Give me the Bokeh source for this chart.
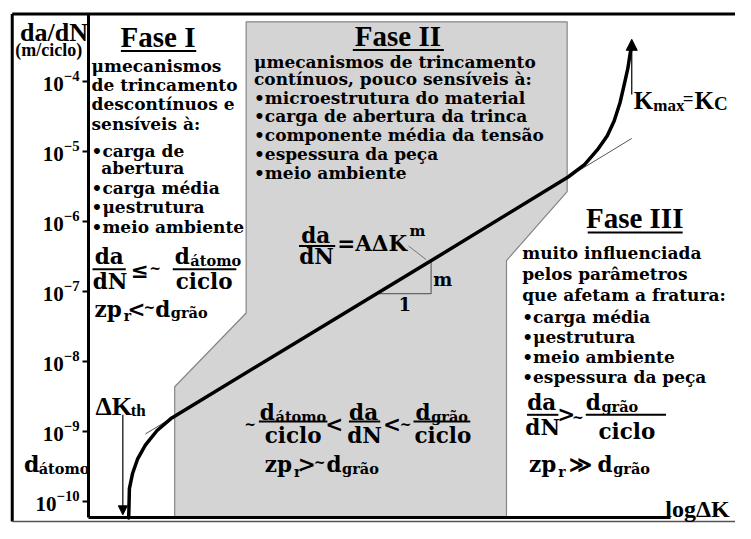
import numpy as np
from bokeh.plotting import figure
from bokeh.models import (LogAxis, LinearAxis, FixedTicker, Arrow,
                          NormalHead, ColumnDataSource)
from bokeh.embed import file_html
from bokeh.resources import INLINE

# ---------------- data (x = log ΔK, arbitrary units; y = log10 da/dN) ----------
log_dK = [0.41, 0.417, 0.45, 0.50, 0.58, 0.70, 0.85, 2.10, 3.60, 4.90,
          5.07, 5.20, 5.30, 5.37, 5.43, 5.47, 5.51, 5.53, 5.55]
log_dadN = [-10.24, -9.82, -9.60, -9.40, -9.20, -8.99, -8.81, -7.75, -6.48, -5.37,
            -5.19, -4.98, -4.78, -4.57, -4.31, -4.07, -3.82, -3.64, -3.47]

paris_dK = [0.58, 5.55]            # Paris-law tangent line
paris_dadN = [-9.04, -4.82]

phase2_dK = [1.61, 4.89, 4.89, 4.27, 4.27, 0.88, 0.88, 1.61]     # Fase II region
phase2_dadN = [-3.155, -3.155, -5.58, -6.563, -10.235, -10.235, -8.365, -7.312]

tick_exponents = [-10, -9, -8, -7, -6, -5, -4]
dK_th = 0.35                       # threshold ΔK
dK_c = 5.55                        # K_max = K_C
slope_tri_dK = [2.94, 3.50]        # slope triangle legs

y_bottom, y_top = -10.235, -3.044
box_left, box_right, box_bottom = -0.78, 6.61, -10.29

BODY = "DejaVu Serif"
TIMES = "Liberation Serif"

p = figure(width=735, height=523, x_range=(-0.90, 6.61),
           y_range=(10 ** -10.318, 10 ** -2.850), y_axis_type="log",
           x_axis_location=None, y_axis_location=None,
           output_backend="svg", toolbar_location=None, min_border=0,
           outline_line_color=None, background_fill_color="white",
           border_fill_color="white")
p.grid.visible = False

# Fase II shaded region
p.patch(phase2_dK, [10 ** v for v in phase2_dadN], fill_color="#d4d4d4",
        line_color="#858585", line_width=1.2)

# Paris tangent (thin)
p.line(paris_dK, [10 ** v for v in paris_dadN], line_color="#555555", line_width=1)

# slope triangle, computed from the Paris line
xa, xb = slope_tri_dK
ya = float(np.interp(xa, paris_dK, paris_dadN))
yb = float(np.interp(xb, paris_dK, paris_dadN))
p.line([xa, xb, xb], [10 ** ya, 10 ** ya, 10 ** yb], line_color="#666666", line_width=1.2)
p.line([3.27, 3.45], [10 ** -6.356, 10 ** (yb + 0.01)], line_color="#777777", line_width=1)

# main curve
p.line(log_dK, [10 ** v for v in log_dadN], line_color="black", line_width=3.5,
       line_join="round", line_cap="round")

# outer box lines
p.segment(x0=[box_left, box_left], x1=[box_right, box_left],
          y0=[10 ** y_top, 10 ** y_top], y1=[10 ** y_top, 10 ** box_bottom],
          line_color="black", line_width=3)
p.segment(x0=[box_left], x1=[box_right], y0=[10 ** box_bottom], y1=[10 ** box_bottom],
          line_color="#555555", line_width=1.5)

# axes
yax = LogAxis(fixed_location=0, bounds=(10 ** y_bottom, 10 ** y_top),
              ticker=FixedTicker(ticks=[10.0 ** e for e in tick_exponents]),
              axis_line_width=3, major_tick_out=6, major_tick_in=0,
              major_tick_line_width=2, minor_tick_out=0, minor_tick_in=0,
              major_label_standoff=3, major_label_text_font=TIMES,
              major_label_text_font_size="21px", major_label_text_font_style="bold",
              major_label_text_color="black")
p.add_layout(yax, "left")
xax = LinearAxis(fixed_location=10 ** y_bottom, bounds=(0, 5.95),
                 ticker=FixedTicker(ticks=[]), axis_line_width=3,
                 major_tick_out=0, major_tick_in=0, minor_tick_out=0, minor_tick_in=0,
                 major_label_text_font_size="0px")
p.add_layout(xax, "below")

# arrows
p.add_layout(Arrow(end=NormalHead(size=9, fill_color="black", line_color="black"),
                   x_start=dK_th, y_start=10 ** -8.766, x_end=dK_th, y_end=10 ** -10.194,
                   line_width=1.2, line_color="black"))
p.add_layout(Arrow(end=NormalHead(size=11, fill_color="black", line_color="black"),
                   x_start=dK_c, y_start=10 ** -4.194, x_end=dK_c, y_end=10 ** -3.404,
                   line_width=1.2, line_color="black"))

# ---------------- texts ----------------
rows = []
def put(t, x, y, size, font=BODY, align="left"):
    rows.append((t, x, y, size, font, align))

B = "17px"
for t, y in [("μmecanismos", -3.792), ("de trincamento", -4.055),
             ("descontínuos e", -4.333), ("sensíveis à:", -4.610),
             ("•carga de", -4.998), ("•carga média", -5.524),
             ("•μestrutura", -5.801), ("•meio ambiente", -6.078)]:
    put(t, 0.03, y, B)
put("abertura", 0.13, -5.247, B)

for t, y in [("μmecanismos de trincamento", -3.723),
             ("contínuos, pouco sensíveis à:", -3.972),
             ("•microestrutura do material", -4.236),
             ("•carga de abertura da trinca", -4.499),
             ("•componente média da tensão", -4.776),
             ("•espessura da peça", -5.039), ("•meio ambiente", -5.316)]:
    put(t, 1.69, y, B)

for t, y in [("muito influenciada", -6.453), ("pelos parâmetros", -6.757),
             ("que afetam a fratura:", -7.062), ("•carga média", -7.367),
             ("•μestrutura", -7.658), ("•meio ambiente", -7.935),
             ("•espessura da peça", -8.226)]:
    put(t, 4.43, y, B)

# titles
put("Fase I", 0.71, -3.376, "29px", TIMES, "center")
put("Fase II", 3.16, -3.363, "29px", TIMES, "center")
put("Fase III", 5.58, -5.954, "29px", TIMES, "center")
bars = [(0.33, 1.10, -3.570, 2), (2.70, 3.63, -3.557, 2), (5.10, 6.07, -6.162, 2)]

# axis labels
put("da/dN", -0.70, -3.307, "26px", TIMES)
put("(m/ciclo)", -0.75, -3.557, "18px", TIMES)
put("d", -0.66, -9.473, "22px")
put("átomo", -0.51, -9.529, "14.5px")
put("logΔK", 6.55, -10.111, "24px", TIMES, "right")
put("ΔK", 0.07, -8.642, "26px", TIMES)
put("th", 0.43, -8.711, "17px", TIMES)
put("K", 5.57, -4.277, "25px", TIMES)
put("max", 5.77, -4.346, "17px", TIMES)
put("=", 6.07, -4.249, "19px", TIMES)
put("K", 6.19, -4.277, "25px", TIMES)
put("C", 6.39, -4.319, "19px", TIMES)

F = "21.5px"; S = "14.5px"; W = "14px"
# Fase I formula
put("da", 0.21, -6.508, F, BODY, "center")
put("dN", 0.22, -6.868, F, BODY, "center")
bars.append((0.04, 0.38, -6.688, 2))
put("≤", 0.52, -6.702, F, BODY, "center")
put("~", 0.68, -6.674, W, BODY, "center")
put("d", 0.88, -6.508, F)
put("átomo", 1.04, -6.563, S)
bars.append((0.86, 1.51, -6.688, 2))
put("ciclo", 1.18, -6.868, F, BODY, "center")
put("zp", 0.06, -7.256, F)
put("r", 0.36, -7.353, "14px")
put("<", 0.49, -7.256, F, BODY, "center")
put("~", 0.62, -7.228, W, BODY, "center")
put("d", 0.68, -7.256, F)
put("grão", 0.84, -7.312, S)

# Fase II region formula
put("~", 1.65, -8.891, W, BODY, "center")
put("d", 1.75, -8.739, F)
put("átomo", 1.91, -8.794, S)
bars.append((1.74, 2.44, -8.863, 2))
put("ciclo", 2.09, -9.058, F, BODY, "center")
put("<", 2.51, -8.905, F, BODY, "center")
put("da", 2.81, -8.739, F, BODY, "center")
bars.append((2.66, 2.98, -8.863, 2))
put("dN", 2.82, -9.058, F, BODY, "center")
put("<", 3.10, -8.905, F, BODY, "center")
put("~", 3.24, -8.891, W, BODY, "center")
put("d", 3.34, -8.739, F)
put("grão", 3.50, -8.794, S)
bars.append((3.32, 3.90, -8.863, 2))
put("ciclo", 3.62, -9.058, F, BODY, "center")
put("zp", 1.80, -9.473, F)
put("r", 2.10, -9.584, "14px")
put(">", 2.23, -9.473, F, BODY, "center")
put("~", 2.36, -9.445, W, BODY, "center")
put("d", 2.43, -9.473, F)
put("grão", 2.59, -9.529, S)

# Fase III formula
put("da", 4.63, -8.586, F, BODY, "center")
bars.append((4.48, 4.80, -8.766, 2))
put("dN", 4.64, -8.947, F, BODY, "center")
put(">", 4.88, -8.766, F, BODY, "center")
put("~", 5.00, -8.794, W, BODY, "center")
put("d", 5.08, -8.586, F)
put("grão", 5.24, -8.642, S)
bars.append((5.08, 5.90, -8.766, 2))
put("ciclo", 5.50, -9.002, F, BODY, "center")
put("zp", 4.50, -9.473, F)
put("r", 4.80, -9.584, "14px")
put("≫", 5.03, -9.473, F, BODY, "center")
put("d", 5.20, -9.473, F)
put("grão", 5.36, -9.529, S)

# Paris law formula
put("da", 2.32, -6.203, F, BODY, "center")
bars.append((2.15, 2.52, -6.356, 2))
put("dN", 2.33, -6.508, F, BODY, "center")
put("=AΔK", 2.54, -6.314, F)
put("m", 3.28, -6.148, "15px")
put("m", 3.62, -6.827, "18px", BODY, "center")
put("1", 3.23, -7.187, "18px", BODY, "center")

src = ColumnDataSource(dict(
    text=[r[0] for r in rows], x=[r[1] for r in rows], y=[10 ** r[2] for r in rows],
    size=[r[3] for r in rows], font=[r[4] for r in rows], align=[r[5] for r in rows]))
p.text(x="x", y="y", text="text", source=src, text_font="font", text_font_size="size",
       text_align="align", text_baseline="middle", text_font_style="bold",
       text_color="black")

p.segment(x0=[b[0] for b in bars], x1=[b[1] for b in bars],
          y0=[10 ** b[2] for b in bars], y1=[10 ** b[2] for b in bars],
          line_width=[b[3] for b in bars], line_color="black")

open("out.html", "w").write(file_html(p, INLINE))
